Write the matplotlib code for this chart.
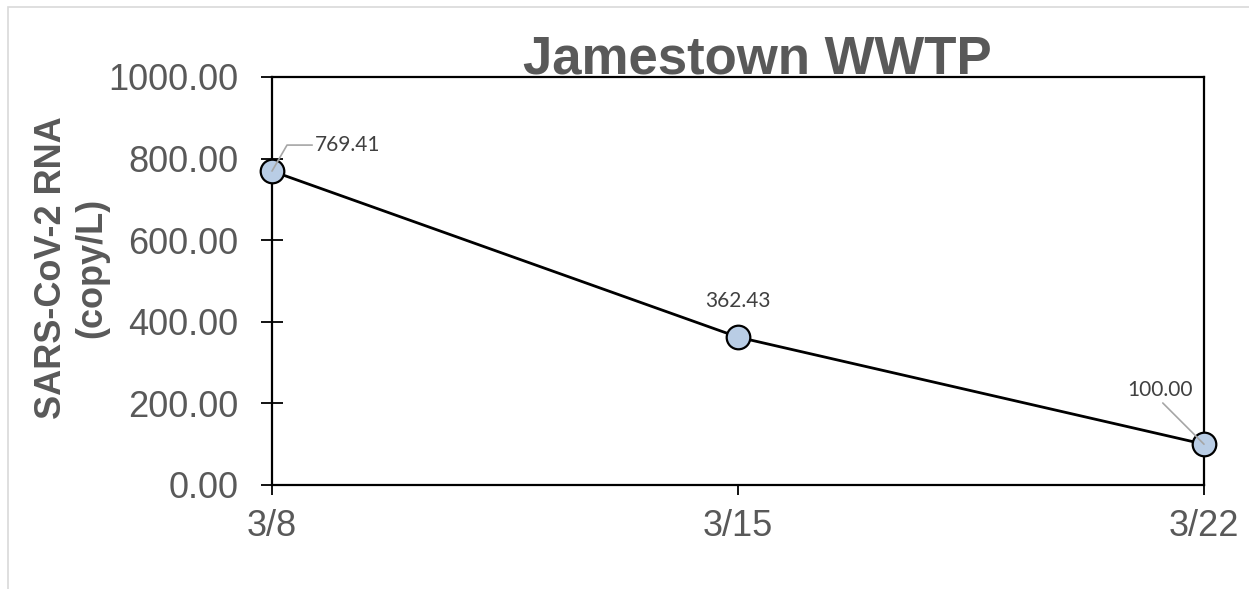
import matplotlib.pyplot as plt
from matplotlib.patches import Rectangle

# data
dates = ['3/8', '3/15', '3/22']
rna = [769.41, 362.43, 100.00]
yticks = [0, 200, 400, 600, 800, 1000]

GRAY = '#595959'
LABEL_GRAY = '#404040'

plt.rcParams['font.family'] = ['Liberation Sans', 'DejaVu Sans']

fig = plt.figure(figsize=(12.49, 5.89), dpi=100)
ax = fig.add_axes([272 / 1249, 1 - 485 / 589, 932 / 1249, 408 / 589])

# light chart border (Excel chart area)
fig.patches.append(Rectangle((8 / 1249, -0.1), 1.2, 1 - 7 / 589 + 0.1,
                             transform=fig.transFigure, fill=False,
                             edgecolor='#D9D9D9', linewidth=1.2))

x = list(range(len(dates)))
ax.plot(x, rna, color='black', linewidth=2, marker='o', markersize=17,
        markerfacecolor='#B9CDE5', markeredgecolor='black', markeredgewidth=1.6,
        zorder=3, clip_on=False)

ax.set_xlim(0, len(dates) - 1)
ax.set_ylim(0, 1000)
ax.set_xticks(x)
ax.set_xticklabels(dates)
ax.set_yticks(yticks)
ax.set_yticklabels([f'{v:.2f}' for v in yticks])

for s in ax.spines.values():
    s.set_linewidth(1.6)
    s.set_color('black')

ax.tick_params(axis='y', direction='inout', length=16, width=1.3,
               labelsize=26, labelcolor=GRAY, pad=16)
ax.tick_params(axis='x', direction='out', length=7, width=1.3,
               labelsize=26, labelcolor=GRAY, pad=10)

# data labels with leader lines
lbl = dict(fontsize=15, color=LABEL_GRAY, family=['Lato', 'DejaVu Sans'])
leader = dict(arrowstyle='-', color='#A6A6A6', linewidth=1.2, shrinkA=0, shrinkB=0)
ax.annotate(f'{rna[0]:.2f}', xy=(x[0], rna[0]), xytext=(43, 26),
            textcoords='offset pixels', ha='left', va='center',
            arrowprops=dict(leader, connectionstyle='angle,angleA=0,angleB=60,rad=0',
                            relpos=(0, 0.5)), **lbl)
ax.annotate(f'{rna[1]:.2f}', xy=(x[1], rna[1]), xytext=(0, 36),
            textcoords='offset pixels', ha='center', va='center', **lbl)
ax.annotate(f'{rna[2]:.2f}', xy=(x[2], rna[2]), xytext=(-44, 54),
            textcoords='offset pixels', ha='center', va='center',
            arrowprops=dict(leader, relpos=(0.5, 0)), **lbl)

fig.text(757 / 1249, 1 - 73 / 589, 'Jamestown WWTP', ha='center', va='baseline',
         fontsize=38, fontweight='bold', color=GRAY)
fig.text(72 / 1249, 1 - 268 / 589, 'SARS-CoV-2 RNA\n(copy/L)', rotation=90,
         ha='center', va='center', multialignment='center',
         fontsize=26, fontweight='bold', color=GRAY)

fig.savefig('out.png', dpi=100)
